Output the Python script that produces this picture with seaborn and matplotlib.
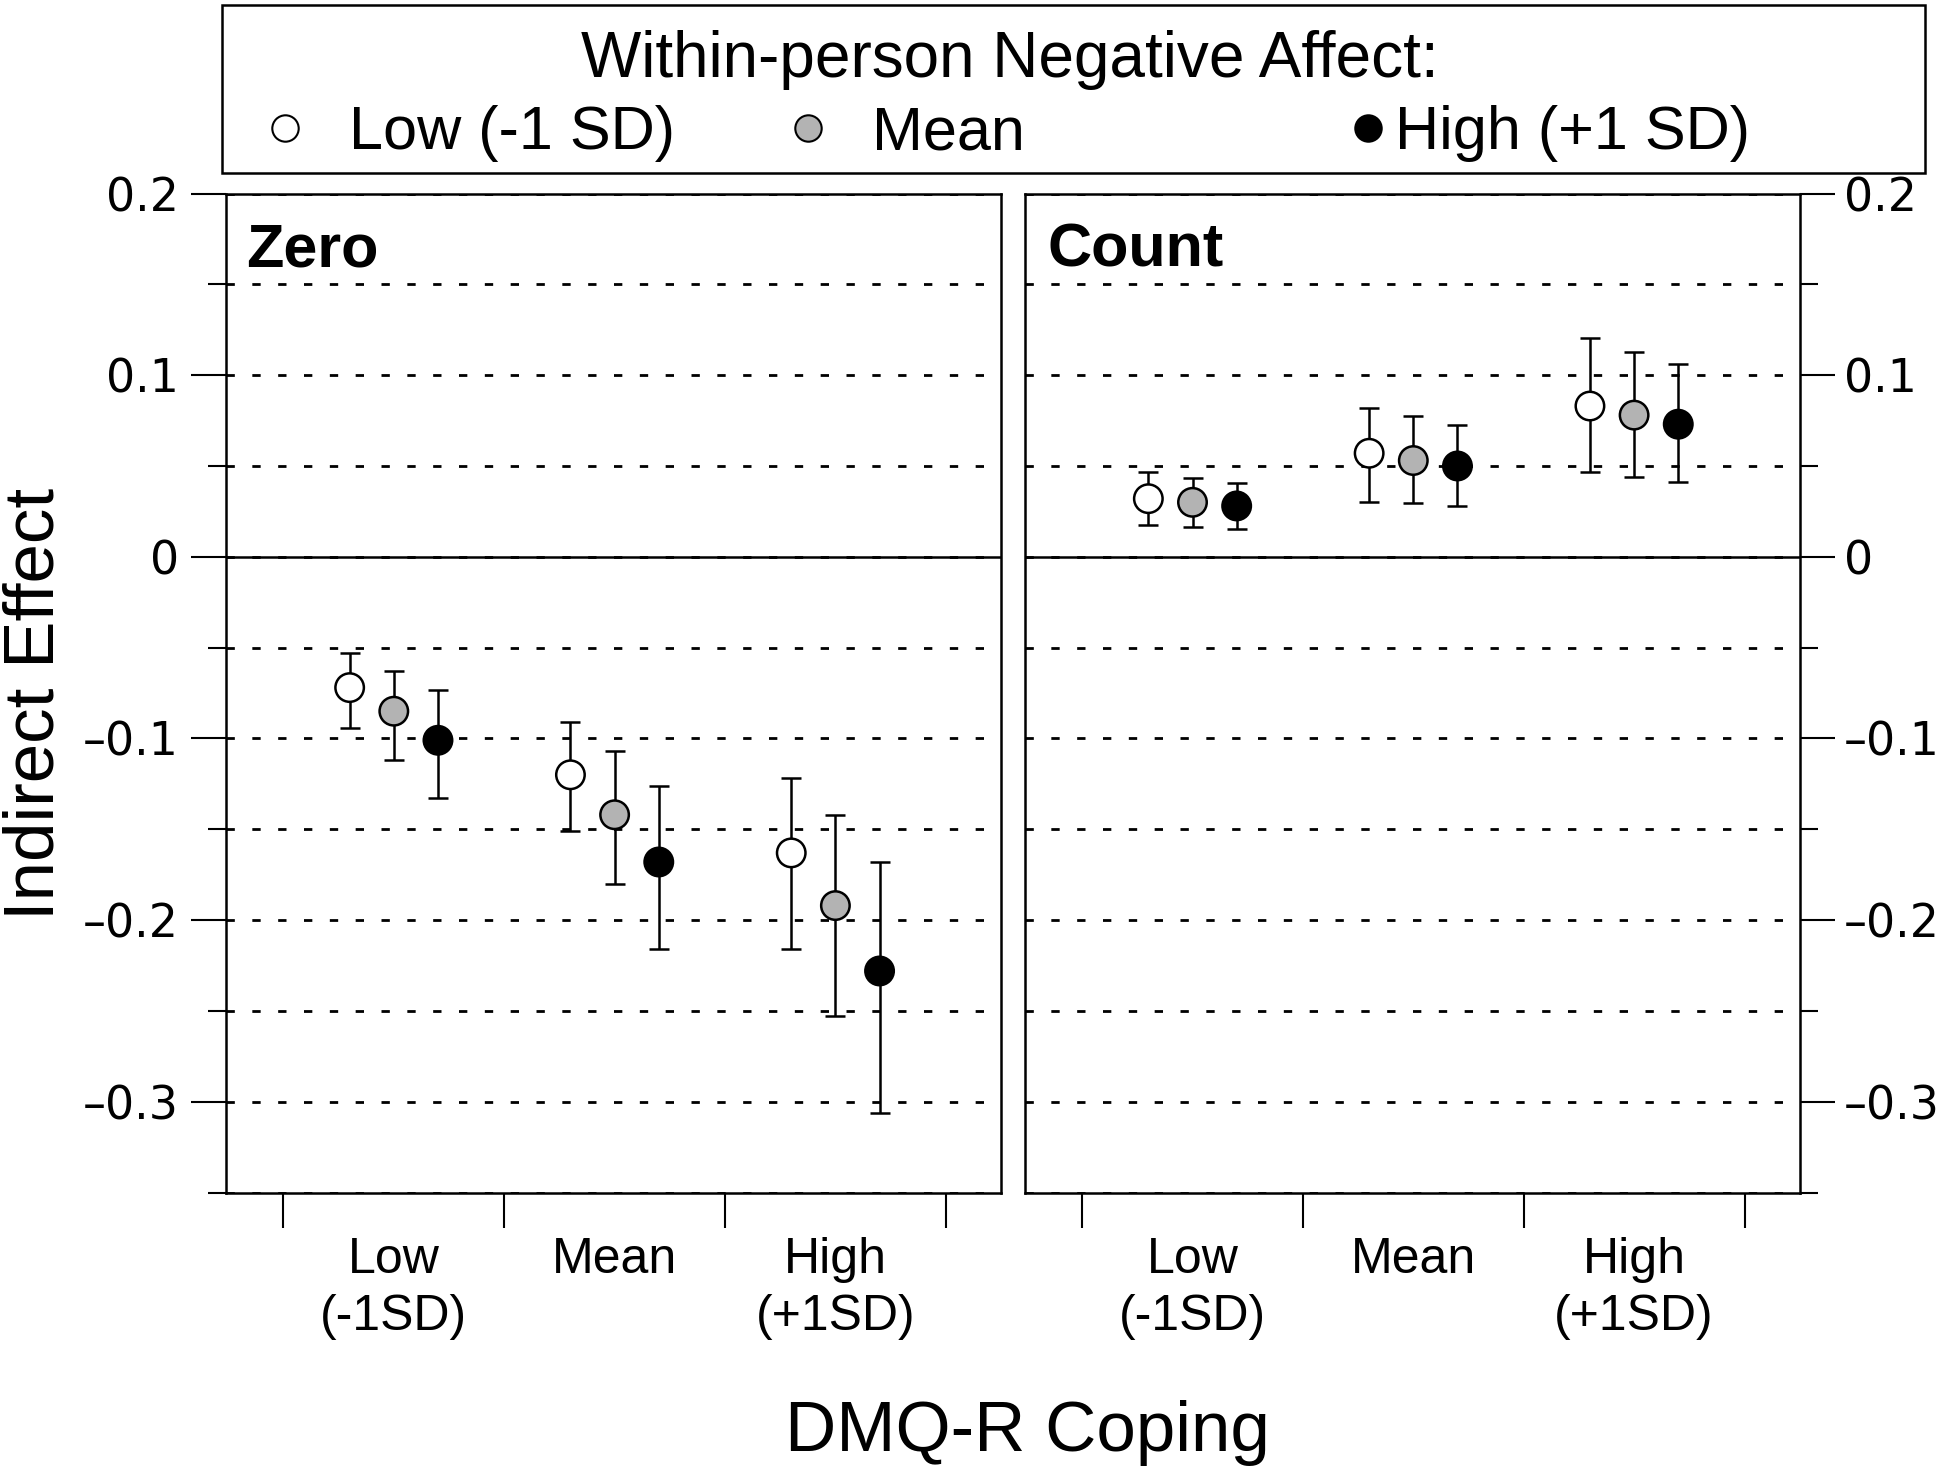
import numpy as np
import pandas as pd
import matplotlib
matplotlib.use("Agg")
import matplotlib.pyplot as plt
import seaborn as sns
from matplotlib.lines import Line2D
from matplotlib.patches import Rectangle
from matplotlib.ticker import MultipleLocator

# ---------------- data ----------------
coping_levels = ["Low\n(-1SD)", "Mean", "High\n(+1SD)"]
affect_levels = ["Low (-1 SD)", "Mean", "High (+1 SD)"]
panel_names = ["Zero", "Count"]

# rows: within-person negative affect (Low, Mean, High); columns: DMQ-R coping (Low, Mean, High)
zero_est = [[-0.072, -0.120, -0.163],
            [-0.085, -0.142, -0.192],
            [-0.101, -0.168, -0.228]]
zero_lower = [[-0.0945, -0.151, -0.216],
              [-0.112, -0.180, -0.253],
              [-0.133, -0.216, -0.306]]
zero_upper = [[-0.053, -0.091, -0.122],
              [-0.063, -0.107, -0.142],
              [-0.0735, -0.126, -0.168]]

count_est = [[0.032, 0.057, 0.083],
             [0.030, 0.053, 0.078],
             [0.028, 0.050, 0.073]]
count_lower = [[0.0174, 0.0303, 0.0468],
               [0.0163, 0.0295, 0.0439],
               [0.0154, 0.0279, 0.0413]]
count_upper = [[0.0466, 0.082, 0.1207],
               [0.0433, 0.0776, 0.1127],
               [0.0407, 0.0723, 0.1059]]

y_major_ticks = [-0.3, -0.2, -0.1, 0.0, 0.1, 0.2]
y_tick_labels = ["\u20130.3", "\u20130.2", "\u20130.1", "0", "0.1", "0.2"]

# ---------------- styling ----------------
sns.set_theme(style="white")
plt.rcParams["font.family"] = ["Liberation Sans", "DejaVu Sans"]
plt.rcParams["text.color"] = "black"
plt.rcParams["axes.labelcolor"] = "black"
plt.rcParams["xtick.color"] = "black"
plt.rcParams["ytick.color"] = "black"

fill_colors = {"Low (-1 SD)": "white", "Mean": "#b3b3b3", "High (+1 SD)": "black"}
offsets = {"Low (-1 SD)": -0.2, "Mean": 0.0, "High (+1 SD)": 0.2}

rows = []
for pname, est, lo, hi in [("Zero", zero_est, zero_lower, zero_upper),
                           ("Count", count_est, count_lower, count_upper)]:
    for i, na in enumerate(affect_levels):
        for j, cop in enumerate(coping_levels):
            rows.append(dict(panel=pname, na=na, coping=j,
                             xpos=j + 0.5 + offsets[na],
                             est=est[i][j], lo=lo[i][j], hi=hi[i][j]))
df = pd.DataFrame(rows)

W, H = 1950, 1477
fig = plt.figure(figsize=(W / 100, H / 100), dpi=100)

ax_b, ax_t = 1192.6, 193.5
axes = []
for k, x0 in enumerate([226, 1024.7]):
    ax = fig.add_axes([x0 / W, 1 - ax_b / H, 775 / W, (ax_b - ax_t) / H])
    axes.append(ax)

LW = 1.8
for k, (ax, pname) in enumerate(zip(axes, panel_names)):
    sub = df[df.panel == pname]
    ax.set_xlim(-0.26, 3.25)
    ax.set_ylim(-0.35, 0.2)

    # grid
    ax.yaxis.set_major_locator(MultipleLocator(0.1))
    ax.yaxis.set_minor_locator(MultipleLocator(0.05))
    ax.grid(False)
    ax.grid(True, axis="y", which="both", color="black", lw=2.0,
            linestyle=(0, (3.0, 6.3)))
    ax.axhline(0, color="black", lw=1.8, zorder=1.5)

    # error bars
    ax.errorbar(sub.xpos, sub.est,
                yerr=[sub.est - sub.lo, sub.hi - sub.est],
                fmt="none", ecolor="black", elinewidth=LW, capsize=7.5,
                capthick=LW, zorder=2)
    sns.scatterplot(data=sub, x="xpos", y="est", hue="na",
                    palette=fill_colors, hue_order=affect_levels,
                    s=420, edgecolor="black", linewidth=LW,
                    legend=False, zorder=3, ax=ax)
    ax.set_xlabel("")
    ax.set_ylabel("")

    # x ticks
    ax.set_xticks([0, 1, 2, 3])
    ax.set_xticklabels([])
    ax.set_xticks([0.5, 1.5, 2.5], minor=True)
    ax.set_xticklabels(coping_levels, minor=True, fontsize=36, linespacing=1.3)
    ax.tick_params(axis="x", which="major", direction="out", length=25,
                   width=1.5, color="black", bottom=True)
    ax.tick_params(axis="x", which="minor", length=0, pad=32, bottom=True)

    # y ticks
    ax.set_yticks(y_major_ticks)
    ax.set_yticklabels(y_tick_labels)
    ax.yaxis.set_minor_locator(MultipleLocator(0.05))
    if k == 0:
        ax.yaxis.tick_left()
        ax.tick_params(axis="y", which="major", direction="out", length=25,
                       width=1.5, color="black", labelsize=33, pad=9, left=True)
        ax.tick_params(axis="y", which="minor", direction="out", length=13,
                       width=1.5, color="black", left=True)
    else:
        ax.yaxis.tick_right()
        ax.tick_params(axis="y", which="major", direction="out", length=25,
                       width=1.5, color="black", labelsize=33, pad=7, right=True,
                       left=False, labelleft=False, labelright=True)
        ax.tick_params(axis="y", which="minor", direction="out", length=13,
                       width=1.5, color="black", right=True, left=False)
    for lbl in ax.get_yticklabels():
        lbl.set_fontfamily("DejaVu Sans")

    for sp in ax.spines.values():
        sp.set_visible(True)
        sp.set_color("black")
        sp.set_linewidth(LW)

    tx = 0.026 if k == 0 else 0.030
    ax.text(tx, 0.9265, pname, transform=ax.transAxes, fontsize=44,
            fontweight="bold", va="baseline", ha="left")

fig.text(36 / W, 1 - 704 / H, "Indirect Effect", fontsize=51, rotation=90,
         ha="center", va="center")
fig.text(1027 / W, 1 - 1433 / H, "DMQ-R Coping", fontsize=51,
         ha="center", va="center")

# ---------------- legend box ----------------
fig.add_artist(Rectangle((222 / W, 1 - 173 / H), (1925 - 222) / W, 168 / H,
                         transform=fig.transFigure, fill=False,
                         edgecolor="black", lw=LW))
fig.text(1010 / W, 1 - 77 / H, "Within-person Negative Affect:", fontsize=46,
         ha="center", va="baseline")
mk_x = [285, 808, 1368]
tx_x = [349, 872, 1395]
for na, mx, txx in zip(affect_levels, mk_x, tx_x):
    fig.add_artist(Line2D([mx / W], [1 - 128 / H], marker="o", ms=19,
                          mfc=fill_colors[na], mec="black", mew=1.5,
                          linestyle="none", transform=fig.transFigure))
    fig.text(txx / W, 1 - 149 / H, na, fontsize=44, ha="left", va="baseline")

fig.savefig("out.png", dpi=100)
